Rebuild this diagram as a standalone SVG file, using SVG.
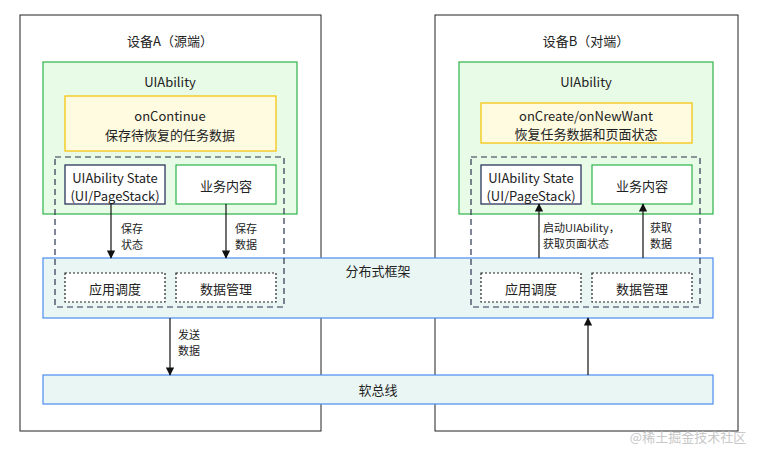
<svg xmlns="http://www.w3.org/2000/svg" width="761" height="450" viewBox="0 0 761 450">
<style>
text{font-family:"Noto Sans CJK SC","Microsoft YaHei",sans-serif;fill:#222;text-anchor:middle;dominant-baseline:central}
.t{font-size:13px}.s{font-size:11px;text-anchor:start}
.outer{fill:#fff;stroke:#222;stroke-width:1}
.green{fill:#e8fbe6;stroke:#2db34a;stroke-width:1.2}
.yel{fill:#fffbe0;stroke:#f5c000;stroke-width:1.2}
.dash{fill:none;stroke:#2a3550;stroke-width:1.2;stroke-dasharray:6 4}
.state{fill:#fff;stroke:#1a2550;stroke-width:1.2}
.biz{fill:#fff;stroke:#2db34a;stroke-width:1.2}
.blue{fill:#eaf6f3;stroke:#4a8ef0;stroke-width:1.2}
.dot{fill:#fff;stroke:#222;stroke-width:1.2;stroke-dasharray:2 2}
.c{stroke:#111;stroke-width:1.2;fill:none;marker-end:url(#a)}
</style>
<defs><marker id="a" viewBox="0 0 10 10" refX="9" refY="5" markerWidth="7" markerHeight="7" orient="auto"><path d="M0,0L10,5L0,10z" fill="#111"/></marker></defs>
<g id="devA"><rect class="outer" x="20" y="15" width="301" height="416"/><text class="t" x="170" y="40">设备A（源端）</text></g>
<g id="devB"><rect class="outer" x="435" y="15" width="303" height="416"/><text class="t" x="586" y="40">设备B（对端）</text></g>
<g id="uiA"><rect class="green" x="43" y="62" width="254" height="152"/><text class="t" x="170" y="81">UIAbility</text></g>
<g id="uiB"><rect class="green" x="459" y="62" width="254" height="152"/><text class="t" x="586" y="81">UIAbility</text></g>
<g id="onContinue"><rect class="yel" x="65" y="96" width="211" height="55"/><text class="t" x="170" y="115">onContinue</text><text class="t" x="170" y="134">保存待恢复的任务数据</text></g>
<g id="onCreate"><rect class="yel" x="481" y="103" width="211" height="40"/><text class="t" x="586" y="115">onCreate/onNewWant</text><text class="t" x="586" y="133">恢复任务数据和页面状态</text></g>
<g id="fw"><rect class="blue" x="43" y="258" width="670" height="60"/><text class="t" x="378" y="270">分布式框架</text></g>
<g id="bus"><rect class="blue" x="43" y="375" width="670" height="29"/><text class="t" x="378" y="389">软总线</text></g>
<g id="dashA"><rect class="dash" x="55" y="157" width="229" height="150"/></g>
<g id="dashB"><rect class="dash" x="471" y="157" width="229" height="150"/></g>
<g id="stateA"><rect class="state" x="65" y="165" width="100" height="39"/><text class="t" x="115" y="177">UIAbility State</text><text class="t" x="115" y="195">(UI/PageStack)</text></g>
<g id="bizA"><rect class="biz" x="176" y="165" width="100" height="39"/><text class="t" x="226" y="185">业务内容</text></g>
<g id="stateB"><rect class="state" x="481" y="165" width="100" height="39"/><text class="t" x="531" y="177">UIAbility State</text><text class="t" x="531" y="195">(UI/PageStack)</text></g>
<g id="bizB"><rect class="biz" x="592" y="165" width="100" height="39"/><text class="t" x="642" y="185">业务内容</text></g>
<g id="schedA"><rect class="dot" x="65" y="273" width="100" height="29"/><text class="t" x="115" y="288">应用调度</text></g>
<g id="dataA"><rect class="dot" x="176" y="273" width="100" height="29"/><text class="t" x="226" y="288">数据管理</text></g>
<g id="schedB"><rect class="dot" x="481" y="273" width="100" height="29"/><text class="t" x="531" y="288">应用调度</text></g>
<g id="dataB"><rect class="dot" x="592" y="273" width="100" height="29"/><text class="t" x="642" y="288">数据管理</text></g>
<g id="connectors">
<line class="c" x1="111" y1="204" x2="111" y2="258"/>
<line class="c" x1="226" y1="204" x2="226" y2="258"/>
<line class="c" x1="170" y1="318" x2="170" y2="375"/>
<line class="c" x1="588" y1="375" x2="588" y2="318"/>
<line class="c" x1="539" y1="258" x2="539" y2="204"/>
<line class="c" x1="643" y1="258" x2="643" y2="204"/>
<text class="s" x="121" y="228">保存</text><text class="s" x="121" y="244">状态</text>
<text class="s" x="235" y="228">保存</text><text class="s" x="235" y="244">数据</text>
<text class="s" x="178" y="334">发送</text><text class="s" x="178" y="350">数据</text>
<text class="s" x="543" y="227">启动UIAbility，</text><text class="s" x="543" y="243">获取页面状态</text>
<text class="s" x="650" y="227">获取</text><text class="s" x="650" y="243">数据</text>
</g>
<text x="688" y="436" style="font-size:13px;fill:#c8c8c8">@稀土掘金技术社区</text>
</svg>
